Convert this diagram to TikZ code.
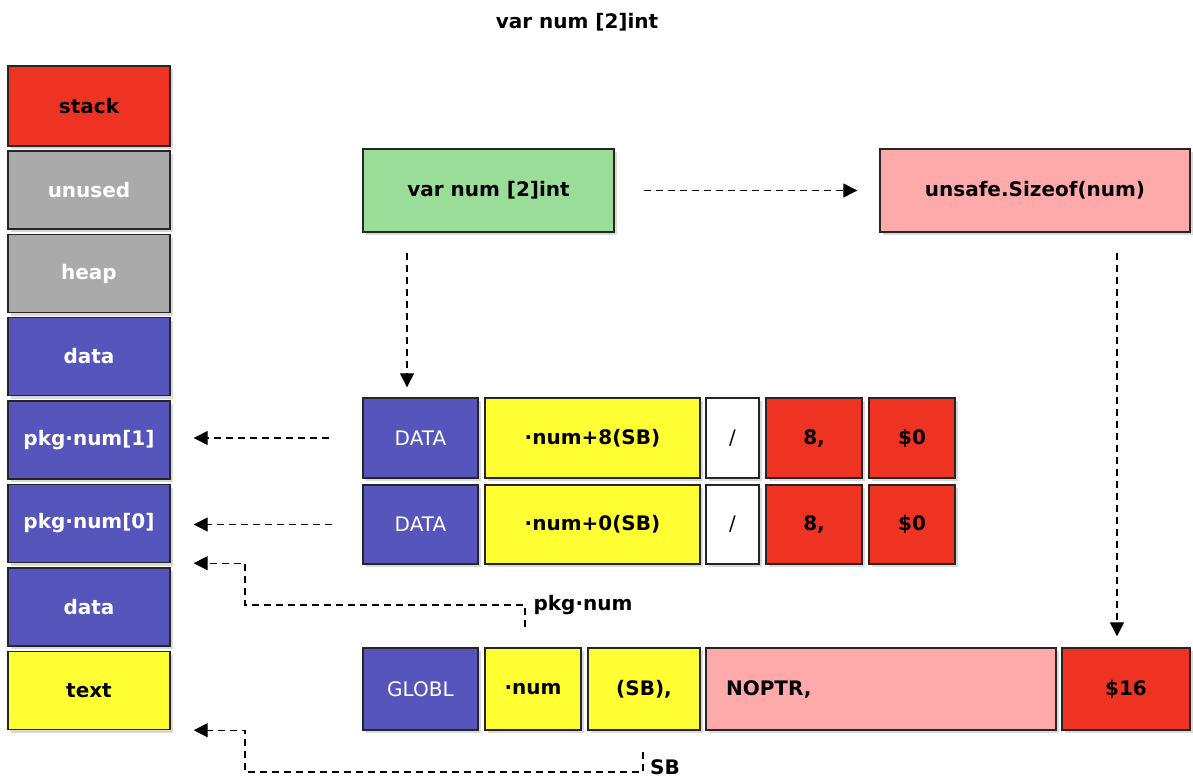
\documentclass[tikz,border=0pt]{standalone}
\usepackage{fontspec}
\setmainfont{DejaVu Sans}
\usetikzlibrary{arrows.meta,shadows}
\definecolor{memred}{HTML}{EE3322}
\definecolor{memgray}{HTML}{AAAAAA}
\definecolor{memblue}{HTML}{5555BB}
\definecolor{memyellow}{HTML}{FFFF33}
\definecolor{memgreen}{HTML}{99DD99}
\definecolor{mempink}{HTML}{FFAAAA}

\begin{document}
\begin{tikzpicture}[x=0.5pt,y=-0.5pt,
  font=\bfseries\fontsize{10pt}{12pt}\selectfont,
  box/.style={draw=black!85,line width=0.7pt,inner sep=0pt,minimum height=39pt,
    drop shadow={opacity=0.3,shadow xshift=1.5pt,shadow yshift=-1.5pt}},
  thin/.style={font=\mdseries\fontsize{10pt}{12pt}\selectfont},
  link/.style={dash pattern=on 3.5pt off 2.5pt,line width=0.65pt,-{Triangle[length=7pt,width=7pt]}}]
\useasboundingbox (0,0) rectangle (1193,781);
\node (t0) at (577,22) {var num [2]int};
% memory layout
\node[box,fill=memred,minimum width=81pt,minimum height=40pt] (a0) at (89,106) {stack};
\node[box,fill=memgray,text=white,minimum width=81pt] (a1) at (89,190) {unused};
\node[box,fill=memgray,text=white,minimum width=81pt] (a2) at (89,273.5) {heap};
\node[box,fill=memblue,text=white,minimum width=81pt] (a3) at (89,356.5) {data};
\node[box,fill=memblue,text=white,minimum width=81pt] (a4) at (89,440) {pkg·num[1]};
\node[box,fill=memblue,text=white,minimum width=81pt] (a5) at (89,523.5) {pkg·num[0]};
\node[box,fill=memblue,text=white,minimum width=81pt] (a6) at (89,607) {data};
\node[box,fill=memyellow,minimum width=81pt] (a7) at (89,690.5) {text};
% source
\node[box,fill=memgreen,minimum width=125.5pt,minimum height=41.5pt] (b0) at (488.5,190.5) {var num [2]int};
\node[box,fill=mempink,minimum width=155pt,minimum height=41.5pt] (b1) at (1035,190.5) {unsafe.Sizeof(num)};
% DATA lines
\node[box,thin,fill=memblue,text=white,minimum width=57.5pt,minimum height=40pt] (c0) at (420.5,438) {DATA};
\node[box,fill=memyellow,minimum width=107.5pt,minimum height=40pt] (c1) at (592.5,438) {·num+8(SB)};
\node[box,thin,fill=white,minimum width=26.5pt,minimum height=40pt] (c2) at (732.5,438) {/};
\node[box,fill=memred,minimum width=48pt,minimum height=40pt] (c3) at (814,438) {8,};
\node[box,fill=memred,minimum width=43pt,minimum height=40pt] (c4) at (912,438) {\$0};
\node[box,thin,fill=memblue,text=white,minimum width=57.5pt,minimum height=39.5pt] (d0) at (420.5,524.5) {DATA};
\node[box,fill=memyellow,minimum width=107.5pt,minimum height=39.5pt] (d1) at (592.5,524.5) {·num+0(SB)};
\node[box,thin,fill=white,minimum width=26.5pt,minimum height=39.5pt] (d2) at (732.5,524.5) {/};
\node[box,fill=memred,minimum width=48pt,minimum height=39.5pt] (d3) at (814,524.5) {8,};
\node[box,fill=memred,minimum width=43pt,minimum height=39.5pt] (d4) at (912,524.5) {\$0};
% GLOBL line
\node[box,thin,fill=memblue,text=white,minimum width=57.5pt,minimum height=41pt] (e0) at (420.5,689) {GLOBL};
\node[box,fill=memyellow,minimum width=48pt,minimum height=41pt] (e1) at (533,689) {·num};
\node[box,fill=memyellow,minimum width=56pt,minimum height=41pt] (e2) at (644,689) {(SB),};
\node[box,fill=mempink,inner xsep=10pt,text width=155pt,align=left,minimum height=41pt] (e3) at (881,689) {NOPTR,};
\node[box,fill=memred,minimum width=64pt,minimum height=41pt] (e4) at (1126,689) {\$16};
\node (p0) at (583,605) {pkg·num};
\node (p1) at (665,767) {SB};
\coordinate (q0) at (525,627);
\coordinate (q1) at (643,752);
\draw[link,shorten <=14.5pt,shorten >=11pt] (b0.east) -- (b1.west);
\draw[link,shorten <=10pt,shorten >=5pt] ([xshift=-40.75pt]b0.south) -- ([xshift=-40.75pt]b0.south |- c0.north);
\draw[link,shorten <=10pt,shorten >=5.5pt] ([xshift=41pt]b1.south) -- ([xshift=41pt]b1.south |- e4.north);
\draw[link,shorten <=16.5pt,shorten >=11.5pt] (c0.west) -- (c0.west -| a4.east);
\draw[link,shorten <=15pt,shorten >=11.5pt] (d0.west) -- (d0.west -| a5.east);
\draw[link] (q0) |- (245,605) |- ([xshift=11.5pt]a5.south east);
\draw[link] (q1) |- (245,772) |- ([xshift=11.5pt]a7.south east);
\end{tikzpicture}
\end{document}
